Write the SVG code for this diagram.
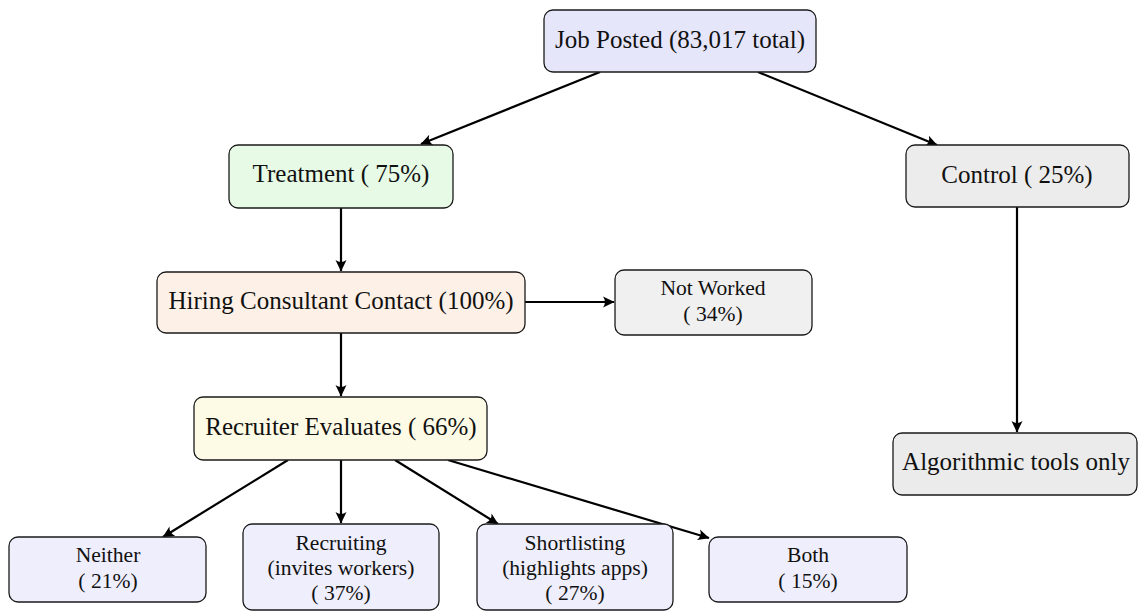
<svg xmlns="http://www.w3.org/2000/svg" width="1138" height="612" viewBox="0 0 1138 612">
<style>
.box{stroke:#1a1a1a;stroke-width:1.3}
.t{font-family:'Liberation Serif','Times New Roman',Times,'DejaVu Serif',serif;font-size:25px;fill:#111;text-anchor:middle}
.s{font-family:'Liberation Serif','Times New Roman',Times,'DejaVu Serif',serif;font-size:21.6px;fill:#111;text-anchor:middle}
.e{stroke:#000;stroke-width:2.2;fill:none;marker-end:url(#ah)}
</style>
<defs>
<marker id="ah" markerUnits="userSpaceOnUse" markerWidth="16" markerHeight="16" viewBox="-13 -8 15 16" refX="0" refY="0" orient="auto">
<path d="M0.5,0 L-11,-5.5 Q-7,0 -11,5.5 Z" fill="#000"/>
</marker>
</defs>
<rect width="1138" height="612" fill="#fff"/>
<g id="connectors">
<line class="e" x1="600" y1="72" x2="421" y2="144"/>
<line class="e" x1="758" y1="72" x2="937" y2="145"/>
<line class="e" x1="341" y1="208" x2="341" y2="271"/>
<line class="e" x1="525" y1="302" x2="614" y2="302"/>
<line class="e" x1="341" y1="333" x2="341" y2="396"/>
<line class="e" x1="1017" y1="207" x2="1017" y2="432"/>
<line class="e" x1="288" y1="460" x2="163" y2="537"/>
<line class="e" x1="341" y1="460" x2="341" y2="523"/>
<line class="e" x1="395" y1="460" x2="498" y2="524"/>
<line class="e" x1="448" y1="460" x2="709" y2="538"/>
</g>
<g id="job">
<rect class="box" x="544" y="10" width="272" height="62" rx="9" fill="#e6e6fa"/>
<text class="t" x="680" y="48">Job Posted (83,017 total)</text>
</g>
<g id="treatment">
<rect class="box" x="229" y="145" width="224" height="63" rx="9" fill="#e6fae6"/>
<text class="t" x="341" y="182">Treatment ( 75%)</text>
</g>
<g id="control">
<rect class="box" x="906" y="145" width="223" height="62" rx="9" fill="#ececec"/>
<text class="t" x="1017" y="183">Control ( 25%)</text>
</g>
<g id="hiring">
<rect class="box" x="157" y="272" width="368" height="61" rx="9" fill="#fdf0e6"/>
<text class="t" x="341" y="309">Hiring Consultant Contact (100%)</text>
</g>
<g id="notworked">
<rect class="box" x="615" y="270" width="197" height="65" rx="9" fill="#f0f0f0"/>
<text class="s" x="713" y="295">Not Worked</text>
<text class="s" x="713" y="321">( 34%)</text>
</g>
<g id="recruiter">
<rect class="box" x="194" y="397" width="293" height="63" rx="9" fill="#fdfbe6"/>
<text class="t" x="341" y="435">Recruiter Evaluates ( 66%)</text>
</g>
<g id="algorithmic">
<rect class="box" x="893" y="433" width="244" height="62" rx="9" fill="#ebebeb"/>
<text class="t" x="1016" y="470">Algorithmic tools only</text>
</g>
<g id="neither">
<rect class="box" x="9" y="537" width="197" height="65" rx="9" fill="#eeeefc"/>
<text class="s" x="108" y="562">Neither</text>
<text class="s" x="108" y="588">( 21%)</text>
</g>
<g id="recruiting">
<rect class="box" x="243" y="524" width="196" height="86" rx="9" fill="#eeeefc"/>
<text class="s" x="341" y="550">Recruiting</text>
<text class="s" x="341" y="575">(invites workers)</text>
<text class="s" x="341" y="600">( 37%)</text>
</g>
<g id="shortlisting">
<rect class="box" x="477" y="524" width="196" height="86" rx="9" fill="#eeeefc"/>
<text class="s" x="575" y="550">Shortlisting</text>
<text class="s" x="575" y="575">(highlights apps)</text>
<text class="s" x="575" y="600">( 27%)</text>
</g>
<g id="both">
<rect class="box" x="709" y="537" width="198" height="65" rx="9" fill="#eeeefc"/>
<text class="s" x="808" y="562">Both</text>
<text class="s" x="808" y="588">( 15%)</text>
</g>
</svg>
